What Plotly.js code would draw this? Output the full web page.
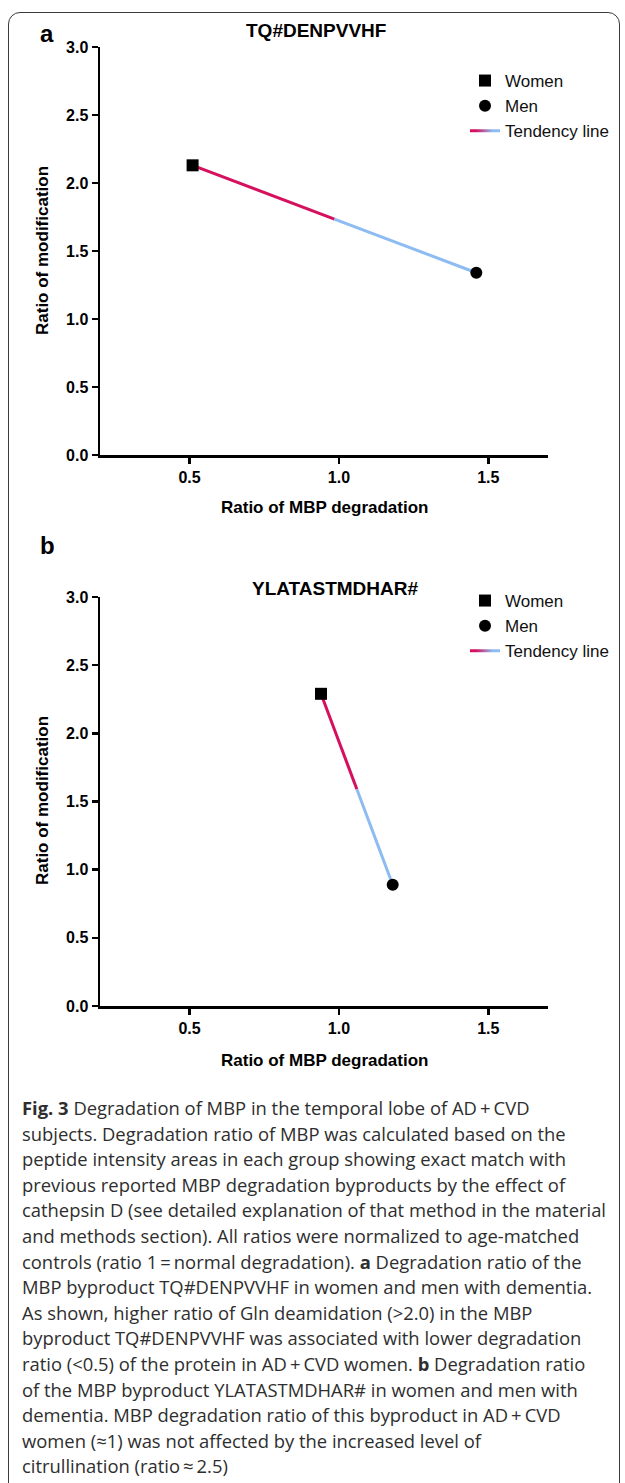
<!DOCTYPE html>
<html>
<head>
<meta charset="utf-8">
<script src="https://cdn.plot.ly/plotly-3.0.1.min.js"></script>
<style>
  html, body { margin:0; padding:0; background:#fff; width:625px; height:1483px; overflow:hidden; }
  #chart { position:absolute; left:0; top:0; width:625px; height:1080px; }
  #frame { position:absolute; left:8px; top:12px; width:612px; height:1520px; border:1.5px solid #3a3a3a; border-radius:12px; pointer-events:none; box-sizing:border-box; }
  #caption { position:absolute; left:22px; top:1095px; font-family:"Open Sans", "Noto Sans", sans-serif; font-size:18.4px; line-height:25.6px; color:#2e2e2e; white-space:nowrap; }
  #caption b { font-weight:700; }
</style>
</head>
<body>
<div id="chart"></div>
<div id="frame"></div>
<div id="caption">
<b>Fig. 3</b> Degradation of MBP in the temporal lobe of AD&#8201;+&#8201;CVD<br>
subjects. Degradation ratio of MBP was calculated based on the<br>
peptide intensity areas in each group showing exact match with<br>
previous reported MBP degradation byproducts by the effect of<br>
cathepsin D (see detailed explanation of that method in the material<br>
and methods section). All ratios were normalized to age-matched<br>
controls (ratio 1&#8201;=&#8201;normal degradation). <b>a</b> Degradation ratio of the<br>
MBP byproduct TQ#DENPVVHF in women and men with dementia.<br>
As shown, higher ratio of Gln deamidation (&gt;2.0) in the MBP<br>
byproduct TQ#DENPVVHF was associated with lower degradation<br>
ratio (&lt;0.5) of the protein in AD&#8201;+&#8201;CVD women. <b>b</b> Degradation ratio<br>
of the MBP byproduct YLATASTMDHAR# in women and men with<br>
dementia. MBP degradation ratio of this byproduct in AD&#8201;+&#8201;CVD<br>
women (&#8776;1) was not affected by the increased level of<br>
citrullination (ratio&#8201;&#8776;&#8201;2.5)
</div>
<script>
// ---- Data ----
const groups = ['Women', 'Men'];
const panelLabels = ['a', 'b'];
const panelTitles = ['TQ#DENPVVHF', 'YLATASTMDHAR#'];
const aDegradation = [0.51, 1.46];
const aModification = [2.13, 1.34];
const bDegradation = [0.94, 1.18];
const bModification = [2.29, 0.89];
const yTicks = [0, 0.5, 1.0, 1.5, 2.0, 2.5, 3.0];
const xTicks = [0.5, 1.0, 1.5];
const xTitle = 'Ratio of MBP degradation';
const yTitle = 'Ratio of modification';

// ---- Style ----
const W = 625, H = 1080;
const CRIMSON = '#d5105e';
const LIGHTBLUE = '#8dbcf3';
const AXFONT = 'Liberation Sans, Arial, sans-serif';
const px = v => v / W;
const py = v => 1 - v / H;

function panelTraces(xs, ys, xa, ya, leg) {
  const mid = [(xs[0] + xs[1]) / 2, (ys[0] + ys[1]) / 2];
  return [
    { x: [xs[0], mid[0]], y: [ys[0], mid[1]], xaxis: xa, yaxis: ya, mode: 'lines',
      line: { color: CRIMSON, width: 3 }, name: 'Tendency line', legend: leg, legendrank: 3, hoverinfo: 'skip' },
    { x: [mid[0], xs[1]], y: [mid[1], ys[1]], xaxis: xa, yaxis: ya, mode: 'lines',
      line: { color: LIGHTBLUE, width: 3 }, showlegend: false, hoverinfo: 'skip' },
    { x: [xs[0]], y: [ys[0]], xaxis: xa, yaxis: ya, mode: 'markers', name: groups[0],
      marker: { symbol: 'square', size: 12, color: '#000' }, legend: leg, legendrank: 1 },
    { x: [xs[1]], y: [ys[1]], xaxis: xa, yaxis: ya, mode: 'markers', name: groups[1],
      marker: { symbol: 'circle', size: 12, color: '#000' }, legend: leg, legendrank: 2 }
  ];
}

const traces = [
  ...panelTraces(aDegradation, aModification, 'x', 'y', 'legend'),
  ...panelTraces(bDegradation, bModification, 'x2', 'y2', 'legend2')
];

const tickFont = { family: AXFONT, size: 16, color: '#000', weight: 700 };
function xAxis(domain, anchor) {
  return { domain: domain, anchor: anchor, range: [0.2, 1.7], tickvals: xTicks, tickformat: '.1f',
    showline: true, linewidth: 2.5, linecolor: '#000', ticks: 'outside', ticklen: 6, tickwidth: 2.5,
    tickcolor: '#000', showgrid: false, zeroline: false, tickfont: tickFont, fixedrange: true };
}
function yAxis(domain, anchor) {
  return { domain: domain, anchor: anchor, range: [0, 3], tickvals: yTicks, tickformat: '.1f',
    showline: true, linewidth: 2.5, linecolor: '#000', ticks: 'outside', ticklen: 6, tickwidth: 2.5,
    tickcolor: '#000', showgrid: false, zeroline: false, tickfont: tickFont, fixedrange: true };
}

const legendCommon = { bgcolor: 'rgba(0,0,0,0)', borderwidth: 0, tracegroupgap: 0,
  font: { family: AXFONT, size: 17, color: '#111' }, xanchor: 'left', yanchor: 'top', itemclick: false, itemdoubleclick: false };

const annText = (text, x, y, size, angle) => ({
  text: text, xref: 'paper', yref: 'paper', x: px(x), y: py(y), xanchor: 'center', yanchor: 'middle',
  showarrow: false, textangle: angle || 0, font: { family: AXFONT, size: size, color: '#000', weight: 700 }
});

const layout = {
  width: W, height: H,
  margin: { l: 0, r: 0, t: 0, b: 0 },
  paper_bgcolor: 'rgba(0,0,0,0)', plot_bgcolor: 'rgba(0,0,0,0)',
  showlegend: true,
  xaxis: xAxis([px(100), px(548)], 'y'),
  yaxis: yAxis([py(455), py(47)], 'x'),
  xaxis2: xAxis([px(100), px(548)], 'y2'),
  yaxis2: yAxis([py(1006), py(597)], 'x2'),
  legend: Object.assign({ x: px(465), y: py(63) }, legendCommon),
  legend2: Object.assign({ x: px(465), y: py(583) }, legendCommon),
  annotations: [
    annText(panelLabels[0], 47, 33, 24),
    annText(panelLabels[1], 47, 545, 24),
    annText(panelTitles[0], 316, 31, 19),
    annText(panelTitles[1], 335, 588, 19),
    annText(xTitle, 324, 508, 17),
    annText(xTitle, 324, 1060, 17),
    annText(yTitle, 42, 251, 17, -90),
    annText(yTitle, 42, 801, 17, -90)
  ]
};

Plotly.newPlot('chart', traces, layout, { staticPlot: true, displayModeBar: false }).then(gd => {
  // gradient for the "Tendency line" legend symbol
  const svg = gd.querySelector('svg.main-svg');
  const NS = 'http://www.w3.org/2000/svg';
  let defs = svg.querySelector('defs');
  if (!defs) { defs = document.createElementNS(NS, 'defs'); svg.insertBefore(defs, svg.firstChild); }
  gd.querySelectorAll('.legendlines path').forEach((p, i) => {
    const bb = p.getBBox();
    const g = document.createElementNS(NS, 'linearGradient');
    g.setAttribute('id', 'tendGrad' + i);
    g.setAttribute('gradientUnits', 'userSpaceOnUse');
    g.setAttribute('x1', bb.x); g.setAttribute('x2', bb.x + bb.width);
    g.setAttribute('y1', 0); g.setAttribute('y2', 0);
    [[0, CRIMSON], [0.2, CRIMSON], [0.75, LIGHTBLUE], [1, LIGHTBLUE]].forEach(([o, c]) => {
      const s = document.createElementNS(NS, 'stop');
      s.setAttribute('offset', o); s.setAttribute('stop-color', c);
      g.appendChild(s);
    });
    defs.appendChild(g);
    p.style.stroke = 'url(#tendGrad' + i + ')';
  });
});
</script>
</body>
</html>
